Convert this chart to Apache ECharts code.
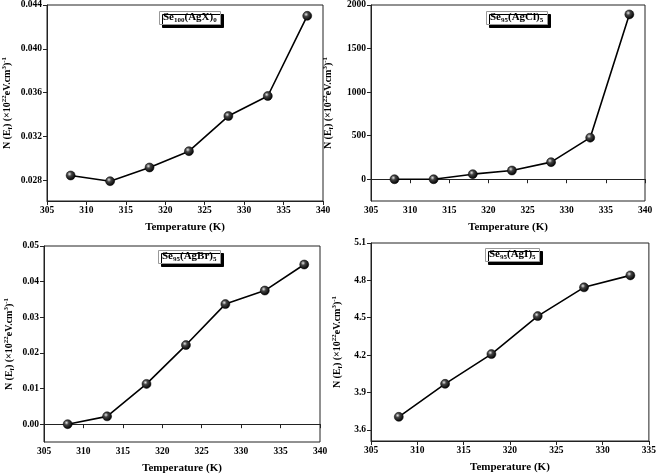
<!DOCTYPE html>
<html>
<head>
<meta charset="utf-8">
<script src="https://cdn.jsdelivr.net/npm/echarts@6/dist/echarts.min.js"></script>
<style>html,body{margin:0;padding:0;background:#fff}#c{width:659px;height:475px}</style>
</head>
<body>
<div id="c"></div>
<script>
var temps = [308, 313, 318, 323, 328, 333, 338];
var tempsAgI = [308, 313, 318, 323, 328, 333];
var valAgX = [0.02843, 0.02791, 0.02916, 0.03065, 0.03386, 0.03569, 0.04301];
var valAgCl = [0, 0, 58, 100, 196, 477, 1892];
var valAgBr = [0, 0.0022, 0.0113, 0.0222, 0.0337, 0.0375, 0.0448];
var valAgI = [3.704, 3.969, 4.208, 4.513, 4.744, 4.840];
var ticksAgX = [0.028, 0.032, 0.036, 0.040, 0.044];
var ticksAgCl = [0, 500, 1000, 1500, 2000];
var ticksAgBr = [0, 0.01, 0.02, 0.03, 0.04, 0.05];
var ticksAgI = [3.6, 3.9, 4.2, 4.5, 4.8, 5.1];
var xTicks = [305, 310, 315, 320, 325, 330, 335, 340];
var xTicksAgI = [305, 310, 315, 320, 325, 330, 335];

var FF = "'Liberation Serif','Times New Roman',serif";
var chart = echarts.init(document.getElementById('c'));

var grids = [
  {left: 43, top: 5, width: 280, height: 196},
  {left: 371, top: 5, width: 274, height: 196},
  {left: 44, top: 246, width: 276, height: 196},
  {left: 371, top: 243, width: 279, height: 198}
];
grids.forEach(function(g){ g.show = true; g.borderColor = '#222'; g.borderWidth = 1; g.backgroundColor = '#fff'; });

function pair(xs, ys){ return xs.map(function(x,i){ return [x, ys[i]]; }); }

var yName = 'N (E{sub|f}) (×10{sup|22}eV.cm{sup|3}){sup|-1}';
var nameRich = {
  sub: {fontSize: 7, fontWeight: 'bold', fontFamily: FF, padding: [6,0,0,0], color:'#000'},
  sup: {fontSize: 7, fontWeight: 'bold', fontFamily: FF, padding: [0,0,6,0], color:'#000'}
};

function xAx(i, max, ticks){
  return {
    type: 'value', gridIndex: i, min: 305, max: max, interval: 5,
    name: 'Temperature (K)', nameLocation: 'middle', nameGap: 21,
    nameTextStyle: {fontFamily: FF, fontWeight: 'bold', fontSize: 11, color: '#000'},
    axisLine: {lineStyle: {color: '#222', width: 1}},
    axisTick: {show: true, inside: false, length: 4, lineStyle: {color: '#222'}},
    axisLabel: {fontFamily: FF, fontWeight: 'bold', fontSize: 9.5, color: '#000', margin: 5},
    splitLine: {show: false}
  };
}
function yAx(i, min, max, ticks, dec, gap){
  return {
    type: 'value', gridIndex: i, min: min, max: max,
    name: yName, nameLocation: 'middle', nameGap: gap, nameRotate: 90,
    nameTextStyle: {fontFamily: FF, fontWeight: 'bold', fontSize: 10, color: '#000', rich: nameRich},
    axisLine: {lineStyle: {color: '#222', width: 1}},
    axisTick: {show: true, inside: false, length: 4, lineStyle: {color: '#222'}, customValues: ticks},
    axisLabel: {fontFamily: FF, fontWeight: 'bold', fontSize: 9.5, color: '#000', margin: 5, customValues: ticks,
      formatter: function(v){ return Number(v).toFixed(dec); }},
    splitLine: {show: false}
  };
}

var ball = {
  type: 'radial', x: 0.38, y: 0.35, r: 0.65,
  colorStops: [{offset: 0, color: '#e8e8e8'}, {offset: 0.35, color: '#444'}, {offset: 1, color: '#000'}]
};
function ser(i, data){
  return {
    type: 'line', xAxisIndex: i, yAxisIndex: i, data: data,
    symbol: 'circle', symbolSize: 9, showSymbol: true,
    lineStyle: {color: '#000', width: 1.6},
    itemStyle: {color: ball, borderColor: '#000', borderWidth: 0.5},
    animation: false
  };
}

var rich = {
  a: {fontSize: 11, fontWeight: 'bold', fontFamily: FF, color: '#000'},
  s: {fontSize: 7, fontWeight: 'bold', fontFamily: FF, color: '#000', padding: [6,0,0,0]}
};
function ttl(text, left, top){
  return {
    text: text, left: left, top: top,
    textStyle: {rich: rich, fontSize: 11, fontFamily: FF, fontWeight: 'bold', color: '#000'},
    backgroundColor: '#fff', borderColor: '#999', borderWidth: 1,
    padding: [1, 4, 1, 4],
    shadowColor: '#000', shadowOffsetX: 3, shadowOffsetY: 3, shadowBlur: 0
  };
}

chart.setOption({
  animation: false,
  title: [
    ttl('{a|Se}{s|100}{a|(AgX)}{s|0}', 159, 10),
    ttl('{a|Se}{s|95}{a|(AgCl)}{s|5}', 486, 10),
    ttl('{a|Se}{s|95}{a|(AgBr)}{s|5}', 158, 249),
    ttl('{a|Se}{s|95}{a|(AgI)}{s|5}', 485, 247)
  ],
  grid: grids,
  xAxis: [xAx(0, 340), xAx(1, 340), xAx(2, 340), xAx(3, 335)],
  yAxis: [
    yAx(0, 0.0261, 0.044, ticksAgX, 3, 33),
    yAx(1, -250, 2000, ticksAgCl, 0, 36),
    yAx(2, -0.005, 0.05, ticksAgBr, 2, 28),
    yAx(3, 3.51, 5.1, ticksAgI, 1, 27)
  ],
  series: [
    ser(0, pair(temps, valAgX)),
    ser(1, pair(temps, valAgCl)),
    ser(2, pair(temps, valAgBr)),
    ser(3, pair(tempsAgI, valAgI))
  ]
});
</script>
</body>
</html>
